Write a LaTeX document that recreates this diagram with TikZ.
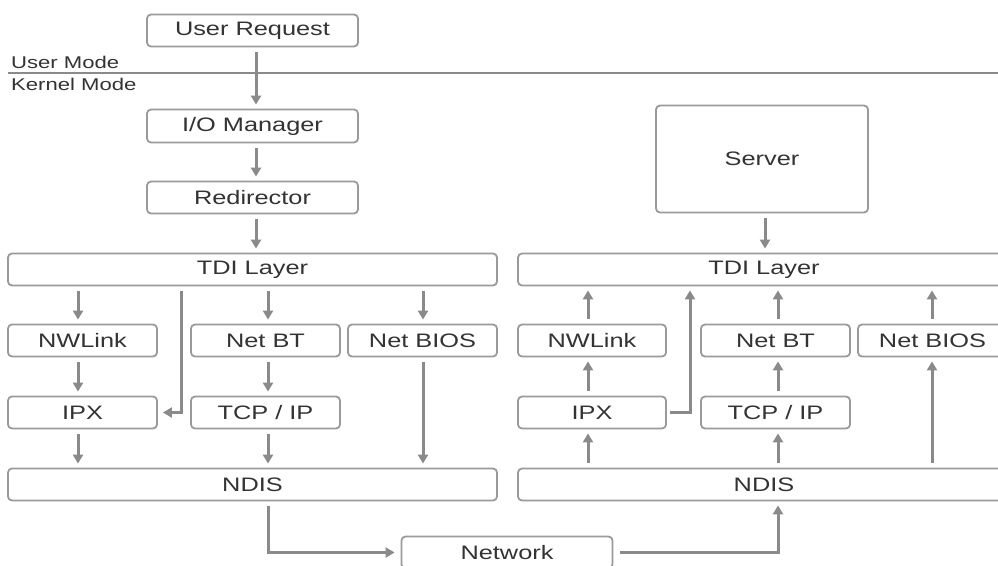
\documentclass[tikz,border=0pt]{standalone}
\usepackage{fontspec}
\setmainfont{Liberation Sans}[FakeStretch=1.3]
\usetikzlibrary{arrows.meta,calc}
\definecolor{boxline}{HTML}{9A9A9A}
\definecolor{arrowgray}{HTML}{8A8A8A}
\definecolor{textgray}{HTML}{333333}
\begin{document}
\begin{tikzpicture}[x=1pt,y=-1pt,
  box/.style={draw=boxline,line width=1.8pt,rounded corners=4pt,inner sep=0pt,
    text=textgray,font=\fontsize{19.5}{22}\selectfont,fill=white},
  small/.style={box,minimum width=149pt,minimum height=32pt},
  wide/.style={box,minimum width=489pt,minimum height=32pt},
  mid/.style={box,minimum width=211pt,minimum height=32pt},
  arr/.style={draw=arrowgray,line width=3pt,
    -{Triangle[length=9pt,width=10pt]},shorten <=5pt,shorten >=4pt},
  modelabel/.style={text=textgray,font=\fontsize{17}{20}\selectfont,inner sep=0pt}]
\clip (0,0) rectangle (998,565);
\fill[white] (0,0) rectangle (998,565);

% user / kernel boundary
\coordinate (lineL) at (8,73);
\coordinate (lineR) at (998,73);
\draw[arrowgray,line width=2.8pt] (lineL) -- (lineR);
\node[modelabel,anchor=south west] (um) at (11,69) {User Mode};
\node[modelabel,anchor=north west] (km) at (11,78) {Kernel Mode};

% client stack
\node[mid] (ur) at (252.5,30.5) {User Request};
\node[mid,minimum height=33pt] (io) at (252.5,126) {I/O Manager};
\node[mid] (redir) at (252.5,197.5) {Redirector};
\node[wide] (tdiL) at (252.5,269.5) {TDI Layer};
\node[small] (nwL) at (82.5,340.5) {NWLink};
\node[small] (netbtL) at (265.5,340.5) {Net BT};
\node[small] (netbiosL) at (422.5,340.5) {Net BIOS};
\node[small] (ipxL) at (82.5,412.5) {IPX};
\node[small] (tcpL) at (265.5,412.5) {TCP / IP};
\node[wide] (ndisL) at (252.5,484.5) {NDIS};

% server stack
\node[box,minimum width=212pt,minimum height=107pt] (server) at (762,159) {Server};
\node[box,minimum width=492pt,minimum height=32pt] (tdiR) at (764,269.5) {TDI Layer};
\node[box,minimum width=148pt,minimum height=32pt] (nwR) at (592,340.5) {NWLink};
\node[small] (netbtR) at (775.5,340.5) {Net BT};
\node[small] (netbiosR) at (932.5,340.5) {Net BIOS};
\node[box,minimum width=148pt,minimum height=32pt] (ipxR) at (592,412.5) {IPX};
\node[small] (tcpR) at (775.5,412.5) {TCP / IP};
\node[box,minimum width=492pt,minimum height=32pt] (ndisR) at (764,484.5) {NDIS};

% network
\node[mid] (net) at (507,552.5) {Network};

% guide columns for connectors
\coordinate (cUR) at (256,0);
\coordinate (cNwL) at (78,0);
\coordinate (cBtL) at (268,0);
\coordinate (cBiosL) at (423,0);
\coordinate (cByL) at (181,0);
\coordinate (cSrv) at (765,0);
\coordinate (cNwR) at (588,0);
\coordinate (cBtR) at (778,0);
\coordinate (cBiosR) at (932,0);
\coordinate (cByR) at (690,0);

% client connectors
\draw[arr] (ur.south -| cUR) -- (io.north -| cUR);
\draw[arr] (io.south -| cUR) -- (redir.north -| cUR);
\draw[arr] (redir.south -| cUR) -- (tdiL.north -| cUR);
\draw[arr] (tdiL.south -| cNwL) -- (nwL.north -| cNwL);
\draw[arr] (tdiL.south -| cBtL) -- (netbtL.north -| cBtL);
\draw[arr] (tdiL.south -| cBiosL) -- (netbiosL.north -| cBiosL);
\draw[arr,shorten >=5pt] (tdiL.south -| cByL) |- (ipxL.east);
\draw[arr] (nwL.south -| cNwL) -- (ipxL.north -| cNwL);
\draw[arr] (netbtL.south -| cBtL) -- (tcpL.north -| cBtL);
\draw[arr] (netbiosL.south -| cBiosL) -- (ndisL.north -| cBiosL);
\draw[arr] (ipxL.south -| cNwL) -- (ndisL.north -| cNwL);
\draw[arr] (tcpL.south -| cBtL) -- (ndisL.north -| cBtL);

% network path
\draw[arr,shorten >=6pt] (ndisL.south -| cBtL) |- (net.west);
\draw[arr,shorten <=7pt] (net.east) -| (ndisR.south -| cBtR);

% server connectors
\draw[arr] (server.south -| cSrv) -- (tdiR.north -| cSrv);
\draw[arr] (ndisR.north -| cNwR) -- (ipxR.south -| cNwR);
\draw[arr] (ipxR.north -| cNwR) -- (nwR.south -| cNwR);
\draw[arr] (nwR.north -| cNwR) -- (tdiR.south -| cNwR);
\draw[arr] (ndisR.north -| cBtR) -- (tcpR.south -| cBtR);
\draw[arr] (tcpR.north -| cBtR) -- (netbtR.south -| cBtR);
\draw[arr] (netbtR.north -| cBtR) -- (tdiR.south -| cBtR);
\draw[arr] (ndisR.north -| cBiosR) -- (netbiosR.south -| cBiosR);
\draw[arr] (netbiosR.north -| cBiosR) -- (tdiR.south -| cBiosR);
\draw[arr,shorten <=3pt] (ipxR.east) -| (tdiR.south -| cByR);
\end{tikzpicture}
\end{document}
